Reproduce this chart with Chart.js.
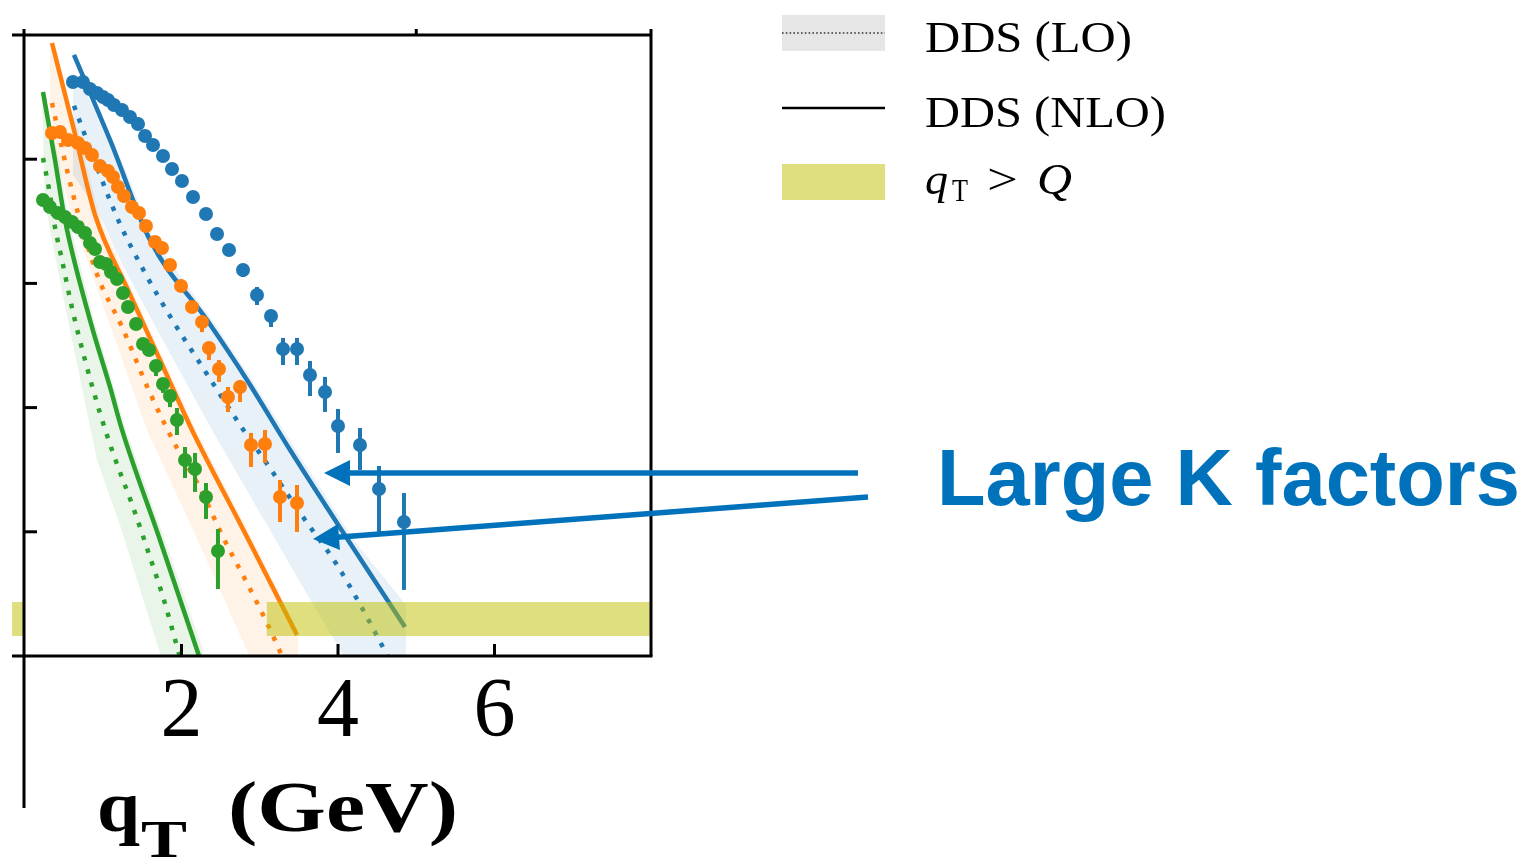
<!DOCTYPE html>
<html>
<head>
<meta charset="utf-8">
<script src="https://cdn.jsdelivr.net/npm/chart.js"></script>
<style>
  html, body { margin: 0; padding: 0; background: #ffffff; }
  canvas { display: block; }
</style>
</head>
<body>
<canvas id="kfac" width="1534" height="864"></canvas>
<script>
// ---- axis ticks ----
const xTickValues = [2, 4, 6];
const yTickValues = [1, 2, 3, 4];   // decades (log10 of the cross section, arbitrary offset)

// ---- measured points: qT (GeV) and log10 cross section, with asymmetric errors ----
const qtBlue  = [0.613,0.741,0.831,0.920,0.997,1.061,1.137,1.240,1.342,1.444,1.534,1.636,1.764,1.879,2.006,2.147,2.313,2.454,2.607,2.786,2.965,3.144,3.297,3.476,3.642,3.834,4.000,4.281,4.524,4.843];
const sigBlue = [4.622,4.622,4.565,4.533,4.501,4.477,4.436,4.396,4.340,4.283,4.187,4.114,4.026,3.921,3.824,3.696,3.559,3.398,3.269,3.108,2.907,2.738,2.472,2.472,2.262,2.126,1.852,1.699,1.345,1.079];
const errUpBlue = [0,0,0,0,0,0,0,0,0,0,0,0,0,0,0,0,0,0,0,0.048,0.064,0.048,0.089,0.089,0.113,0.121,0.137,0.137,0.185,0.233];
const errDnBlue = [0,0,0,0,0,0,0,0,0,0,0,0,0,0,0,0,0,0,0,0.056,0.081,0.089,0.129,0.129,0.169,0.161,0.217,0.201,0.346,0.547];

const qtOrange  = [0.345,0.447,0.550,0.677,0.767,0.856,0.958,1.061,1.125,1.188,1.265,1.367,1.457,1.546,1.661,1.751,1.853,1.994,2.134,2.262,2.351,2.479,2.594,2.748,2.888,3.067,3.259,3.476];
const sigOrange = [4.211,4.219,4.155,4.130,4.090,4.034,3.945,3.905,3.857,3.776,3.704,3.615,3.567,3.462,3.333,3.285,3.148,2.979,2.810,2.689,2.480,2.311,2.085,2.166,1.699,1.707,1.280,1.232];
const errUpOrange = [0,0,0,0,0,0,0,0,0,0,0,0,0,0,0,0,0,0,0,0.024,0.048,0.072,0.081,0.056,0.097,0.113,0.137,0.145];
const errDnOrange = [0,0,0,0,0,0,0,0,0,0,0,0,0,0,0,0,0,0,0,0.081,0.097,0.105,0.121,0.121,0.177,0.153,0.201,0.233];

const qtGreen  = [0.230,0.319,0.422,0.511,0.601,0.677,0.767,0.831,0.895,0.958,1.035,1.099,1.176,1.252,1.316,1.419,1.508,1.585,1.674,1.764,1.853,1.942,2.045,2.173,2.313,2.466];
const sigGreen = [3.671,3.615,3.567,3.535,3.494,3.454,3.406,3.325,3.277,3.172,3.156,3.092,3.035,2.923,2.810,2.673,2.512,2.464,2.335,2.190,2.093,1.900,1.578,1.506,1.280,0.845];
const errUpGreen = [0,0,0,0,0,0,0,0,0,0,0,0,0,0,0,0,0,0,0.024,0.032,0.032,0.097,0.105,0.129,0.113,0.177];
const errDnGreen = [0,0,0,0,0,0,0,0,0,0,0,0,0,0,0,0,0,0,0.081,0.072,0.089,0.121,0.145,0.185,0.177,0.306];

// ---- DDS predictions: NLO (solid) and LO (dotted) ----
const nloBlueX = [0.626,1.086,1.597,2.326,2.837,3.412,4.153,4.856];
const nloBlueY = [4.839,4.155,3.349,2.705,2.222,1.634,0.910,0.233];
const loBlueX  = [0.626,0.958,1.214,1.534,1.891,2.275,2.748,3.042,3.553,3.987,4.307,4.626,4.856];
const loBlueY  = [4.430,3.873,3.478,3.084,2.697,2.319,1.860,1.594,1.119,0.733,0.386,0.008,-0.270];

const nloOrangeX = [0.345,0.626,0.895,1.316,1.725,2.134,2.811,3.476];
const nloOrangeY = [4.936,4.235,3.551,2.947,2.383,1.820,0.990,0.169];
const loOrangeX  = [0.345,0.537,0.677,0.933,1.240,1.597,1.955,2.236,2.530,2.837,3.093,3.284,3.476];
const loOrangeY  = [4.452,3.913,3.567,3.052,2.649,2.118,1.659,1.353,0.958,0.588,0.266,0.000,-0.270];

const nloGreenX = [0.230,0.383,0.511,0.831,1.086,1.240,1.725,2.211,2.275];
const nloGreenY = [4.541,3.994,3.510,2.705,2.166,1.820,0.934,0.024,-0.097];
const loGreenX  = [0.230,0.320,0.383,0.473,0.601,0.767,0.958,1.125,1.380,1.597,1.764,1.955,2.275];
const loGreenY  = [4.010,3.712,3.454,3.188,2.802,2.383,1.957,1.634,1.200,0.797,0.475,0.048,-0.670];

// ---- uncertainty bands: upper and lower edges ----
const bandBlueHiX = [0.613,1.125,1.649,2.390,2.901,3.489,4.230,4.869];
const bandBlueHiY = [4.702,4.155,3.349,2.705,2.222,1.634,0.910,0.411];
const bandBlueLoX = [0.613,0.831,0.997,1.214,1.725,2.390,3.003,3.514,4.051,4.869];
const bandBlueLoY = [3.873,3.671,3.494,3.188,2.585,1.820,1.151,0.596,0.024,-0.862];

const bandOrangeHiX = [0.319,0.677,0.946,1.367,1.776,2.185,2.863,3.489];
const bandOrangeHiY = [4.895,4.235,3.551,2.947,2.383,1.820,0.990,0.209];
const bandOrangeLoX = [0.319,0.383,0.613,1.086,1.559,2.236,2.850,3.489];
const bandOrangeLoY = [4.477,4.074,3.510,2.665,1.820,0.894,0.024,-0.837];

const bandGreenHiX = [0.217,0.435,0.562,0.882,1.137,1.291,1.789,2.275];
const bandGreenHiY = [4.573,3.994,3.510,2.705,2.166,1.820,0.934,0.048];
const bandGreenLoX = [0.217,0.256,0.319,0.575,0.920,1.214,1.725,2.275];
const bandGreenLoY = [4.477,3.671,3.430,2.625,1.578,1.055,0.024,-1.079];

// ---- qT > Q region marker ----
const qtOverQX = [3.09, 8.0];
const qtOverQY = [0.161, 0.435];

// ---------------------------------------------------------------
const COL = { blue: '#1f77b4', orange: '#ff7f0e', green: '#2ca02c' };
const RGB = { blue: '31,119,180', orange: '255,127,14', green: '44,160,44' };
const ACCENT = '#0072bb';

const xy = (xs, ys) => xs.map((x, i) => ({ x, y: ys[i] }));
const polygon = (hx, hy, lx, ly) => xy(hx, hy).concat(xy(lx, ly).reverse());

function bandSet(hx, hy, lx, ly, key) {
  return { data: polygon(hx, hy, lx, ly), fill: 'shape', backgroundColor: `rgba(${RGB[key]},0.1)`,
           borderWidth: 0, borderColor: 'transparent', pointRadius: 0, tension: 0, order: 4, clip: 0 };
}
function curveSet(xs, ys, key, dotted) {
  return { data: xy(xs, ys), borderColor: COL[key], borderWidth: 4.5,
           borderDash: dotted ? [4.5, 9] : [], borderCapStyle: 'butt', fill: false,
           pointRadius: 0, cubicInterpolationMode: 'monotone', order: dotted ? 3 : 2, clip: 0 };
}
function pointSet(xs, ys, up, dn, key) {
  return { data: xy(xs, ys), showLine: false, pointRadius: 7, pointHoverRadius: 7,
           pointBackgroundColor: COL[key], pointBorderColor: COL[key], pointBorderWidth: 0,
           errUp: up, errDn: dn, errColor: COL[key], order: 0 };
}

const qtOverQSet = {
  data: [ { x: qtOverQX[0], y: qtOverQY[1] }, { x: qtOverQX[1], y: qtOverQY[1] },
          { x: qtOverQX[1], y: qtOverQY[0] }, { x: qtOverQX[0], y: qtOverQY[0] } ],
  fill: 'shape', backgroundColor: 'rgba(191,191,0,0.5)', borderWidth: 0, borderColor: 'transparent',
  pointRadius: 0, tension: 0, order: 1, clip: 0
};

const datasets = [
  pointSet(qtBlue, sigBlue, errUpBlue, errDnBlue, 'blue'),
  pointSet(qtOrange, sigOrange, errUpOrange, errDnOrange, 'orange'),
  pointSet(qtGreen, sigGreen, errUpGreen, errDnGreen, 'green'),
  qtOverQSet,
  curveSet(nloBlueX, nloBlueY, 'blue', false),
  curveSet(nloOrangeX, nloOrangeY, 'orange', false),
  curveSet(nloGreenX, nloGreenY, 'green', false),
  curveSet(loBlueX, loBlueY, 'blue', true),
  curveSet(loOrangeX, loOrangeY, 'orange', true),
  curveSet(loGreenX, loGreenY, 'green', true),
  bandSet(bandBlueHiX, bandBlueHiY, bandBlueLoX, bandBlueLoY, 'blue'),
  bandSet(bandOrangeHiX, bandOrangeHiY, bandOrangeLoX, bandOrangeLoY, 'orange'),
  bandSet(bandGreenHiX, bandGreenHiY, bandGreenLoX, bandGreenLoY, 'green')
];

// vertical error bars, drawn just before their markers
const errorBars = {
  id: 'errorBars',
  beforeDatasetDraw(chart, args) {
    const ds = chart.data.datasets[args.index];
    if (!ds.errUp) return;
    const { ctx, chartArea: a, scales: { x, y } } = chart;
    ctx.save();
    ctx.beginPath(); ctx.rect(a.left, a.top, a.right - a.left, a.bottom - a.top); ctx.clip();
    ctx.strokeStyle = ds.errColor; ctx.lineWidth = 4; ctx.lineCap = 'butt';
    ds.data.forEach((p, i) => {
      const up = ds.errUp[i], dn = ds.errDn[i];
      if (!up && !dn) return;
      const px = x.getPixelForValue(p.x);
      ctx.beginPath();
      ctx.moveTo(px, y.getPixelForValue(p.y + up));
      ctx.lineTo(px, y.getPixelForValue(p.y - dn));
      ctx.stroke();
    });
    ctx.restore();
  }
};

// axes frame with inward ticks
const frame = {
  id: 'frame',
  afterDatasetsDraw(chart) {
    const { ctx, chartArea: a, scales: { x, y } } = chart;
    ctx.save();
    // stub of the qT > Q strip left of the frame
    ctx.fillStyle = 'rgba(191,191,0,0.5)';
    const yt = y.getPixelForValue(qtOverQY[1]), yb = y.getPixelForValue(qtOverQY[0]);
    ctx.fillRect(12, yt, a.left - 13, yb - yt);

    ctx.strokeStyle = '#000'; ctx.lineWidth = 3; ctx.lineCap = 'butt';
    const seg = (x1, y1, x2, y2) => { ctx.beginPath(); ctx.moveTo(x1, y1); ctx.lineTo(x2, y2); ctx.stroke(); };
    seg(a.left - 1, a.top - 6, a.left - 1, 808);
    seg(12, a.top, a.right, a.top);
    seg(12, a.bottom, a.right + 1.5, a.bottom);
    seg(a.right, a.top - 6, a.right, a.bottom);
    yTickValues.forEach(v => { const p = y.getPixelForValue(v); seg(a.left, p, a.left + 12, p); });
    xTickValues.forEach(v => { const p = x.getPixelForValue(v); seg(p, a.bottom, p, a.bottom - 12); });
    const pt = x.getPixelForValue(5); seg(pt, a.top, pt, a.top - 6);
    ctx.restore();
  }
};

function drawText(ctx, s, x, y, font, width, color) {
  ctx.save();
  ctx.font = font;
  ctx.fillStyle = color || '#000';
  ctx.textAlign = 'left'; ctx.textBaseline = 'alphabetic';
  const w = ctx.measureText(s).width;
  ctx.translate(x, y);
  ctx.scale(width ? width / w : 1, 1);
  ctx.fillText(s, 0, 0);
  ctx.restore();
}

function arrow(ctx, x0, y0, x1, y1) {
  const dx = x1 - x0, dy = y1 - y0, L = Math.hypot(dx, dy);
  const ux = dx / L, uy = dy / L, head = 26, half = 13;
  const bx = x1 - ux * head, by = y1 - uy * head;
  ctx.beginPath(); ctx.moveTo(x0, y0); ctx.lineTo(bx + ux * 2, by + uy * 2); ctx.stroke();
  ctx.beginPath();
  ctx.moveTo(x1, y1);
  ctx.lineTo(bx - uy * half, by + ux * half);
  ctx.lineTo(bx + uy * half, by - ux * half);
  ctx.closePath(); ctx.fill();
}

// arrows point at the NLO and LO curves (data coordinates)
const callouts = [
  { from: [10.645, 1.473], to: [3.821, 1.473] },
  { from: [10.773, 1.280], to: [3.681, 0.942] }
];

const notes = {
  id: 'notes',
  afterDraw(chart) {
    const { ctx, scales: { x, y } } = chart;
    ctx.save();
    // legend
    ctx.fillStyle = 'rgba(128,128,128,0.2)';
    ctx.fillRect(782, 15, 103, 36);
    ctx.strokeStyle = '#333'; ctx.lineWidth = 1.6; ctx.setLineDash([1.6, 2.2]);
    ctx.beginPath(); ctx.moveTo(782, 33); ctx.lineTo(885, 33); ctx.stroke();
    ctx.setLineDash([]);
    ctx.strokeStyle = '#000'; ctx.lineWidth = 2.4;
    ctx.beginPath(); ctx.moveTo(782, 108); ctx.lineTo(885, 108); ctx.stroke();
    ctx.fillStyle = 'rgba(191,191,0,0.5)';
    ctx.fillRect(782, 164, 103, 36);
    const serif = '"Liberation Serif", "DejaVu Serif", serif';
    drawText(ctx, 'DDS (LO)', 925, 52, `44px ${serif}`, 207);
    drawText(ctx, 'DDS (NLO)', 925, 127, `44px ${serif}`, 241);
    drawText(ctx, 'q', 925, 194, `italic 44px ${serif}`, 23);
    drawText(ctx, 'T', 952, 201, `32px ${serif}`, 16);
    drawText(ctx, '>', 987, 194, `44px ${serif}`, 31);
    drawText(ctx, 'Q', 1037, 194, `italic 44px ${serif}`, 35);

    // axis title
    drawText(ctx, 'q', 97, 831, `bold 72px ${serif}`, 43);
    drawText(ctx, 'T', 141, 857, `bold 52px ${serif}`, 46);
    drawText(ctx, '(GeV)', 228, 831, `bold 72px ${serif}`, 230);

    // callout
    ctx.strokeStyle = ACCENT; ctx.fillStyle = ACCENT; ctx.lineWidth = 5.5; ctx.lineCap = 'butt';
    callouts.forEach(c => arrow(ctx, x.getPixelForValue(c.from[0]), y.getPixelForValue(c.from[1]),
                                    x.getPixelForValue(c.to[0]), y.getPixelForValue(c.to[1])));
    drawText(ctx, 'Large K factors', 937, 505, 'bold 79px "Liberation Sans", Arial, sans-serif', 583, ACCENT);
    ctx.restore();
  }
};

new Chart(document.getElementById('kfac').getContext('2d'), {
  type: 'line',
  data: { datasets },
  options: {
    responsive: false,
    animation: false,
    events: [],
    layout: { padding: { left: 0, top: 35, right: 883, bottom: 0 } },
    plugins: { legend: { display: false }, tooltip: { enabled: false } },
    scales: {
      x: {
        type: 'linear', min: 0, max: 8,
        afterBuildTicks: s => { s.ticks = xTickValues.map(v => ({ value: v })); },
        afterFit: s => { s.height = 208; },
        grid: { display: false, drawTicks: false },
        border: { display: false },
        ticks: { color: '#000', padding: 16, maxRotation: 0, autoSkip: false,
                 font: { family: '"Liberation Serif", serif', size: 84, lineHeight: 1 } }
      },
      y: {
        type: 'linear', min: 0, max: 5,
        afterFit: s => { s.width = 25; },
        grid: { display: false, drawTicks: false },
        border: { display: false },
        ticks: { display: false }
      }
    }
  },
  plugins: [errorBars, frame, notes]
});
</script>
</body>
</html>
